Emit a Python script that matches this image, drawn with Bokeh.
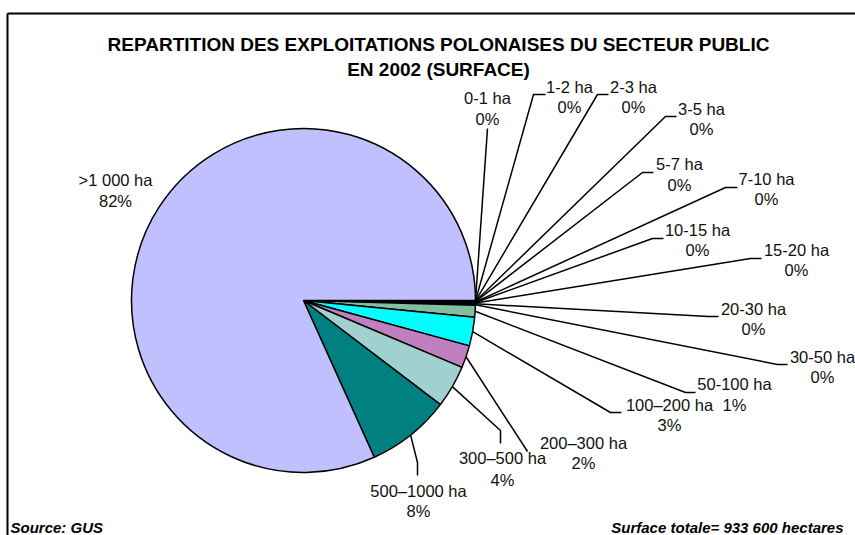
import numpy as np
from bokeh.plotting import figure
from bokeh.models import Range1d, ColumnDataSource
from bokeh.core.properties import value
from bokeh.embed import file_html
from bokeh.resources import INLINE

# ---------------- data ----------------
categories = ["0-1 ha", "1-2 ha", "2-3 ha", "3-5 ha", "5-7 ha", "7-10 ha",
              "10-15 ha", "15-20 ha", "20-30 ha", "30-50 ha", "50-100 ha",
              "100\u2013200 ha", "200\u2013300 ha", "300\u2013500 ha",
              "500\u20131000 ha", ">1 000 ha"]
shares = [0.02, 0.02, 0.02, 0.03, 0.03, 0.04, 0.05, 0.05, 0.08, 0.11,
          1.1, 2.7, 2.1, 4.0, 7.9, 81.75]
pct_labels = ["0%", "0%", "0%", "0%", "0%", "0%", "0%", "0%", "0%", "0%",
              "1%", "3%", "2%", "4%", "8%", "82%"]
colors = ["#9999FF", "#993366", "#FFFFCC", "#CCFFFF", "#660066", "#FF8080",
          "#0066CC", "#CCCCFF", "#000080", "#FF00FF", "#80C0A0",
          "#00FFFF", "#C080C0", "#A0D0D0", "#008080", "#C0C0FF"]

title_lines = ["REPARTITION DES EXPLOITATIONS POLONAISES DU SECTEUR PUBLIC",
               "EN 2002 (SURFACE)"]
source_note = "Source: GUS"
total_note = "Surface totale= 933 600 hectares"

# ---------------- layout (page pixel coordinates) ----------------
W, H = 855, 535
def Y(py):  # page y -> data y
    return H - py

cx, cy, r = 303, 300, 172

# label centres: (x, y line1, y line2)
label_pos = [(487, 97, 118), (569, 86, 106), (633, 86, 106), (701, 108, 128),
             (679, 163, 184), (766, 178, 198), (697, 229, 249), (796, 249, 269),
             (753, 308, 328), (822, 356, 376), (734, 383, 404), (669, 404, 424),
             (583, 442, 462), (502, 457, 479), (418, 490, 510), (115, 179, 200)]
# leader paths beyond the slice edge point
leader_pts = [[(487, 128)],
              [(533, 94), (545, 94)],
              [(597, 94), (608, 94)],
              [(665, 116), (676, 116)],
              [(642, 172), (653, 172)],
              [(725, 187), (737, 187)],
              [(652, 238), (663, 238)],
              [(750, 258), (761, 258)],
              [(708, 316), (718, 316)],
              [(777, 364), (787, 364)],
              [(685, 392), (695, 392)],
              [(610, 412), (621, 412)],
              [(527, 451)],
              [(500, 430), (500, 443)],
              [(417, 462), (417, 475)],
              None]

p = figure(width=W, height=H, output_backend="svg", toolbar_location=None,
           x_range=Range1d(0, W), y_range=Range1d(0, H),
           min_border=0, min_border_left=0, min_border_right=0,
           min_border_top=0, min_border_bottom=0)
p.axis.visible = False
p.grid.visible = False
p.outline_line_color = None
p.background_fill_color = "white"
p.border_fill_color = "white"

# pie (clockwise from 3 o'clock)
vals = np.array(shares, dtype=float)
frac = vals / vals.sum()
cum = np.concatenate([[0], np.cumsum(frac)])
start = -cum[1:] * 2 * np.pi
end = -cum[:-1] * 2 * np.pi
src = ColumnDataSource(dict(start=start, end=end, color=colors, cat=categories))
p.wedge(x=cx, y=Y(cy), radius=r, start_angle="start", end_angle="end",
        fill_color="color", line_color="black", line_width=1.5, source=src)

# leader lines
mid = (cum[:-1] + cum[1:]) / 2 * 2 * np.pi
xs, ys = [], []
for i, pts in enumerate(leader_pts):
    if pts is None:
        continue
    sx = cx + r * np.cos(mid[i])
    sy = cy + r * np.sin(mid[i])
    xs.append([sx] + [q[0] for q in pts])
    ys.append([Y(sy)] + [Y(q[1]) for q in pts])
p.multi_line(xs=xs, ys=ys, line_color="black", line_width=1.5)

font = value("Liberation Sans")
p.text(x=[q[0] for q in label_pos], y=[Y(q[1]) for q in label_pos], text=categories,
       text_font=font, text_font_size=value("16.5px"), text_align="center",
       text_baseline="middle", text_color="#111111")
p.text(x=[q[0] for q in label_pos], y=[Y(q[2]) for q in label_pos], text=pct_labels,
       text_font=font, text_font_size=value("16.5px"), text_align="center",
       text_baseline="middle", text_color="#111111")

# title
p.text(x=[438, 438], y=[Y(44), Y(69)], text=title_lines, text_font=font,
       text_font_size=value("19px"), text_font_style="bold",
       text_align="center", text_baseline="middle", text_color="black")

# footer notes
p.text(x=[10], y=[Y(527)], text=[source_note], text_font=font,
       text_font_size=value("15px"), text_font_style="bold italic",
       text_align="left", text_baseline="middle", text_color="black")
p.text(x=[843], y=[Y(527)], text=[total_note], text_font=font,
       text_font_size=value("15px"), text_font_style="bold italic",
       text_align="right", text_baseline="middle", text_color="black")

# chart frame (top and left edges visible in the window)
p.line(x=[7, W], y=[Y(13), Y(13)], line_color="black", line_width=2)
p.line(x=[7, 7], y=[Y(13), 0], line_color="black", line_width=2)

open("out.html", "w").write(file_html(p, INLINE))
